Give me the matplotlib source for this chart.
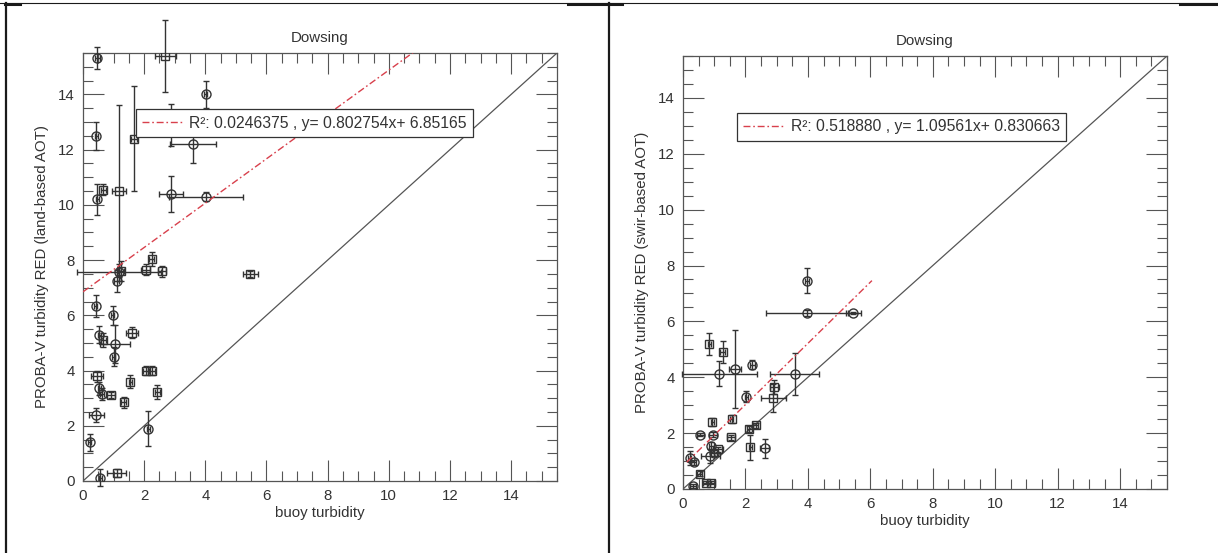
import numpy as np
import matplotlib
matplotlib.use("Agg")
import matplotlib.pyplot as plt
from matplotlib.lines import Line2D
from matplotlib.ticker import MultipleLocator

plt.rcParams['font.family'] = ['Liberation Sans', 'DejaVu Sans']

# land-based AOT retrieval vs buoy
land_x = [0.47, 2.69, 4.02, 0.44, 1.67, 3.60, 2.87, 0.47, 0.66, 1.17,
          2.88, 4.02, 1.17, 1.10, 1.25, 2.05, 2.24, 2.58, 5.47, 0.41,
          0.98, 0.53, 0.66, 1.04, 1.60, 1.00, 0.47, 0.53, 0.62, 0.90,
          1.55, 1.33, 2.05, 2.25, 2.43, 0.44, 0.22, 2.14, 0.57, 1.10]
land_y = [15.32, 15.40, 14.00, 12.50, 12.40, 12.20, 12.90, 10.20, 10.55, 10.50,
          10.40, 10.30, 7.56, 7.25, 7.60, 7.65, 8.05, 7.60, 7.50, 6.35,
          6.00, 5.30, 5.10, 4.96, 5.37, 4.50, 3.80, 3.35, 3.15, 3.12,
          3.60, 2.85, 4.00, 4.00, 3.23, 2.38, 1.40, 1.90, 0.12, 0.28]
land_xerr = [0.08, 0.35, 0.05, 0.05, 0.10, 0.75, 0.05, 0.06, 0.08, 0.22,
             0.38, 1.20, 1.37, 0.08, 0.10, 0.15, 0.08, 0.12, 0.25, 0.05,
             0.05, 0.05, 0.08, 0.50, 0.20, 0.05, 0.20, 0.05, 0.08, 0.15,
             0.05, 0.08, 0.10, 0.12, 0.08, 0.25, 0.05, 0.05, 0.05, 0.30]
land_yerr = [0.40, 1.30, 0.50, 0.50, 1.90, 0.70, 0.75, 0.55, 0.20, 3.10,
             0.65, 0.15, 0.30, 0.40, 0.35, 0.20, 0.25, 0.20, 0.12, 0.40,
             0.35, 0.30, 0.25, 0.70, 0.20, 0.35, 0.20, 0.25, 0.20, 0.12,
             0.25, 0.20, 0.15, 0.15, 0.25, 0.25, 0.30, 0.65, 0.30, 0.15]
land_sym = ['o', 's', 'o', 'o', 's', 'o', 'o', 'o', 's', 's',
            'o', 'o', 'o', 'o', 's', 's', 's', 's', 's', 'o',
            'o', 'o', 's', 'o', 's', 'o', 's', 'o', 'o', 's',
            's', 's', 's', 's', 's', 'o', 'o', 'o', 'o', 's']

# swir-based AOT retrieval vs buoy
swir_x = [3.97, 3.97, 5.46, 0.84, 1.27, 1.16, 1.66, 2.22, 3.58, 2.02,
          2.89, 2.93, 1.56, 0.94, 0.56, 0.96, 1.53, 2.12, 2.33, 2.16,
          2.62, 0.90, 1.12, 1.00, 0.87, 0.22, 0.34, 0.54, 0.31, 0.75, 0.91]
swir_y = [7.45, 6.30, 6.30, 5.20, 4.90, 4.12, 4.30, 4.45, 4.12, 3.30,
          3.25, 3.65, 2.50, 2.40, 1.95, 1.95, 1.85, 2.15, 2.28, 1.50,
          1.45, 1.55, 1.42, 1.28, 1.18, 1.12, 0.95, 0.55, 0.10, 0.22, 0.22]
swir_xerr = [0.05, 1.30, 0.25, 0.05, 0.08, 1.20, 0.20, 0.08, 0.78, 0.05,
             0.40, 0.15, 0.05, 0.05, 0.12, 0.12, 0.12, 0.08, 0.08, 0.05,
             0.15, 0.08, 0.15, 0.10, 0.30, 0.05, 0.08, 0.08, 0.10, 0.10, 0.10]
swir_yerr = [0.45, 0.10, 0.05, 0.40, 0.40, 0.45, 1.40, 0.15, 0.75, 0.20,
             0.50, 0.25, 0.15, 0.15, 0.05, 0.10, 0.10, 0.10, 0.10, 0.45,
             0.35, 0.15, 0.10, 0.10, 0.25, 0.25, 0.10, 0.10, 0.08, 0.05, 0.05]
swir_sym = ['o', 'o', 'o', 's', 's', 'o', 'o', 'o', 'o', 'o',
            's', 's', 's', 's', 'o', 'o', 's', 's', 's', 's',
            'o', 'o', 's', 'o', 'o', 'o', 'o', 's', 'o', 's', 's']

# linear fits: slope, intercept, R^2 (as printed)
land_fit = (0.802754, 6.85165, '0.0246375')
swir_fit = (1.09561, 0.830663, '0.518880')
land_fit_range = [0.0, 15.5]
swir_fit_range = [0.12, 6.05]

axis_max = 15.5
ink = '#333333'


def draw_panel(ax, xs, ys, xe, ye, syms, fit, fit_range, ylabel):
    ax.set_xlim(0, axis_max)
    ax.set_ylim(0, axis_max)

    # 1:1 reference line
    ax.plot([0, axis_max], [0, axis_max], color='#555555', lw=0.9, zorder=2)

    for x, y, dx, dy, m in zip(xs, ys, xe, ye, syms):
        ms = 6.5 if m == 'o' else 5.5
        c = ax.errorbar(x, y, xerr=dx, yerr=dy, fmt=m, ms=ms, mfc='none',
                        mec=ink, mew=1.0, ecolor=ink, elinewidth=1.0,
                        capsize=2.5, capthick=1.0, zorder=3)
        for art in c.lines[1] + c.lines[2]:
            art.set_clip_on(False)

    slope, icpt, r2 = fit
    fx = np.array(fit_range)
    lbl = 'R²: %s , y= %gx+ %g' % (r2, slope, icpt)
    ax.plot(fx, slope * fx + icpt, color='#d8404c', lw=1.0,
            ls=(0, (5, 2, 1.2, 2)), label=lbl, zorder=4)

    leg = ax.legend(loc='upper left', bbox_to_anchor=(0.112, 0.868),
                    borderaxespad=0, fancybox=False, framealpha=1,
                    edgecolor=ink, handlelength=2.6, handletextpad=0.4,
                    borderpad=0.4, fontsize=11.3)
    leg.get_frame().set_linewidth(0.9)
    for t in leg.get_texts():
        t.set_color(ink)
    leg.set_zorder(10)

    ax.set_title('Dowsing', fontsize=10.8, color=ink, pad=8)
    ax.set_xlabel('buoy turbidity', fontsize=10.8, color=ink, labelpad=2)
    ax.set_ylabel(ylabel, fontsize=10.8, color=ink, labelpad=6)

    ax.xaxis.set_major_locator(MultipleLocator(2))
    ax.yaxis.set_major_locator(MultipleLocator(2))
    ax.xaxis.set_minor_locator(MultipleLocator(0.5))
    ax.yaxis.set_minor_locator(MultipleLocator(0.5))
    ax.tick_params(which='both', direction='in', top=True, right=True,
                   color='#555555', width=0.8, labelsize=10.8,
                   labelcolor=ink)
    ax.tick_params(which='major', length=15, pad=6)
    ax.tick_params(which='minor', length=7.5)
    for s in ax.spines.values():
        s.set_color('#555555')
        s.set_linewidth(0.9)


W, H = 1218, 553
fig = plt.figure(figsize=(W / 100, H / 100), dpi=100)

ax1 = fig.add_axes([83 / W, (H - 481) / H, 474 / W, 428 / H])
ax2 = fig.add_axes([683 / W, (H - 489) / H, 484 / W, 433 / H])

draw_panel(ax1, land_x, land_y, land_xerr, land_yerr, land_sym,
           land_fit, land_fit_range, 'PROBA-V turbidity RED (land-based AOT)')
draw_panel(ax2, swir_x, swir_y, swir_xerr, swir_yerr, swir_sym,
           swir_fit, swir_fit_range, 'PROBA-V turbidity RED (swir-based AOT)')


# table frame around the two panels
def px_line(x0, y0, x1, y1, lw):
    fig.add_artist(Line2D([x0 / W, x1 / W], [1 - y0 / H, 1 - y1 / H],
                          color='#1a1a1a', lw=lw, transform=fig.transFigure))


px_line(0, 3, W, 3, 0.8)
px_line(5, 4, 20, 4, 2.2)
px_line(568, 4, 622, 4, 2.2)
px_line(1180, 4, W, 4, 2.2)
px_line(6, 3, 6, H, 1.6)
px_line(609, 3, 609, H, 1.6)

fig.savefig('out.png', dpi=100)
